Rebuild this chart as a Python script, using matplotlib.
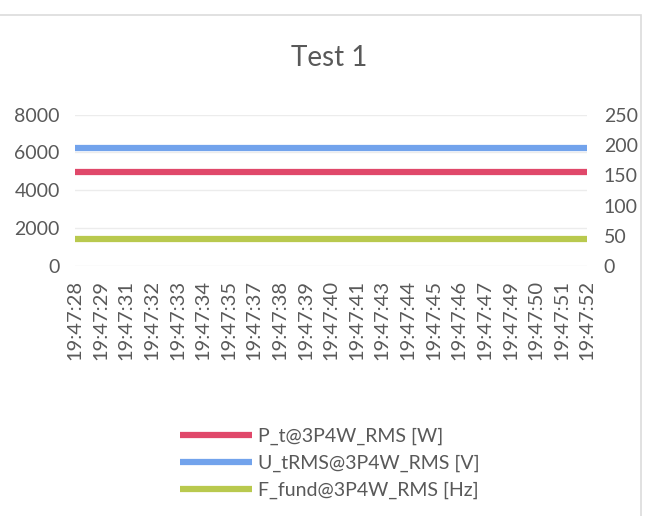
import matplotlib.pyplot as plt
from matplotlib.patches import Rectangle

plt.rcParams['font.family'] = ['Lato', 'DejaVu Sans']

times = ["19:47:28", "19:47:29", "19:47:31", "19:47:32", "19:47:33", "19:47:34",
         "19:47:35", "19:47:37", "19:47:38", "19:47:39", "19:47:40", "19:47:41",
         "19:47:43", "19:47:44", "19:47:45", "19:47:46", "19:47:47", "19:47:49",
         "19:47:50", "19:47:51", "19:47:52"]
p_t = [4960, 4960, 4960, 4960, 4960, 4960, 4960, 4960, 4960, 4960, 4960,
       4960, 4960, 4960, 4960, 4960, 4960, 4960, 4960, 4960, 4960]
u_trms = [195, 195, 195, 195, 195, 195, 195, 195, 195, 195, 195,
          195, 195, 195, 195, 195, 195, 195, 195, 195, 195]
f_fund = [45.5, 45.5, 45.5, 45.5, 45.5, 45.5, 45.5, 45.5, 45.5, 45.5, 45.5,
          45.5, 45.5, 45.5, 45.5, 45.5, 45.5, 45.5, 45.5, 45.5, 45.5]

text_col = '#595959'
red = '#e0486a'
blue = '#72a3ec'
green = '#b9c94e'

fig = plt.figure(figsize=(6.59, 5.16), dpi=100)
ax = fig.add_axes([0.114, 0.484, 0.777, 0.294])
ax2 = ax.twinx()

x = list(range(len(times)))
l1, = ax.plot(x, p_t, color=red, lw=4.5, solid_capstyle='butt', zorder=3)
l2, = ax2.plot(x, u_trms, color=blue, lw=4.5, solid_capstyle='butt', zorder=3)
l3, = ax2.plot(x, f_fund, color=green, lw=4.5, solid_capstyle='butt', zorder=3)

ax.set_xlim(0, len(times) - 1)
ax.set_ylim(0, 8000)
ax.set_yticks([0, 2000, 4000, 6000, 8000])
ax2.set_ylim(0, 250)
ax2.set_yticks([0, 50, 100, 150, 200, 250])
ax.set_xticks(x)
ax.set_xticklabels(times, rotation=90)
ax.grid(axis='y', color='#ececec', lw=1)
ax.set_axisbelow(True)

for a in (ax, ax2):
    for s in a.spines.values():
        s.set_visible(False)
    a.tick_params(length=0, colors=text_col, labelsize=14)
ax.tick_params(axis='y', pad=11)
ax2.tick_params(axis='y', pad=12)
ax.tick_params(axis='x', pad=10, labelsize=14.5)

fig.text(0.5, 0.887, 'Test 1', ha='center', va='center', fontsize=20, color=text_col)

leg = fig.legend([l1, l2, l3],
                 ['P_t@3P4W_RMS [W]', 'U_tRMS@3P4W_RMS [V]', 'F_fund@3P4W_RMS [Hz]'],
                 loc='center', bbox_to_anchor=(0.5, 0.102), frameon=False,
                 fontsize=14, handlelength=3.7, handletextpad=0.3, labelspacing=0.52)
for t in leg.get_texts():
    t.set_color(text_col)

fig.patches.append(Rectangle((-0.01, -0.01), 0.983, 0.981, transform=fig.transFigure,
                             fill=False, edgecolor='#dcdcdc', lw=1.2))

fig.savefig('out.png', dpi=100)
